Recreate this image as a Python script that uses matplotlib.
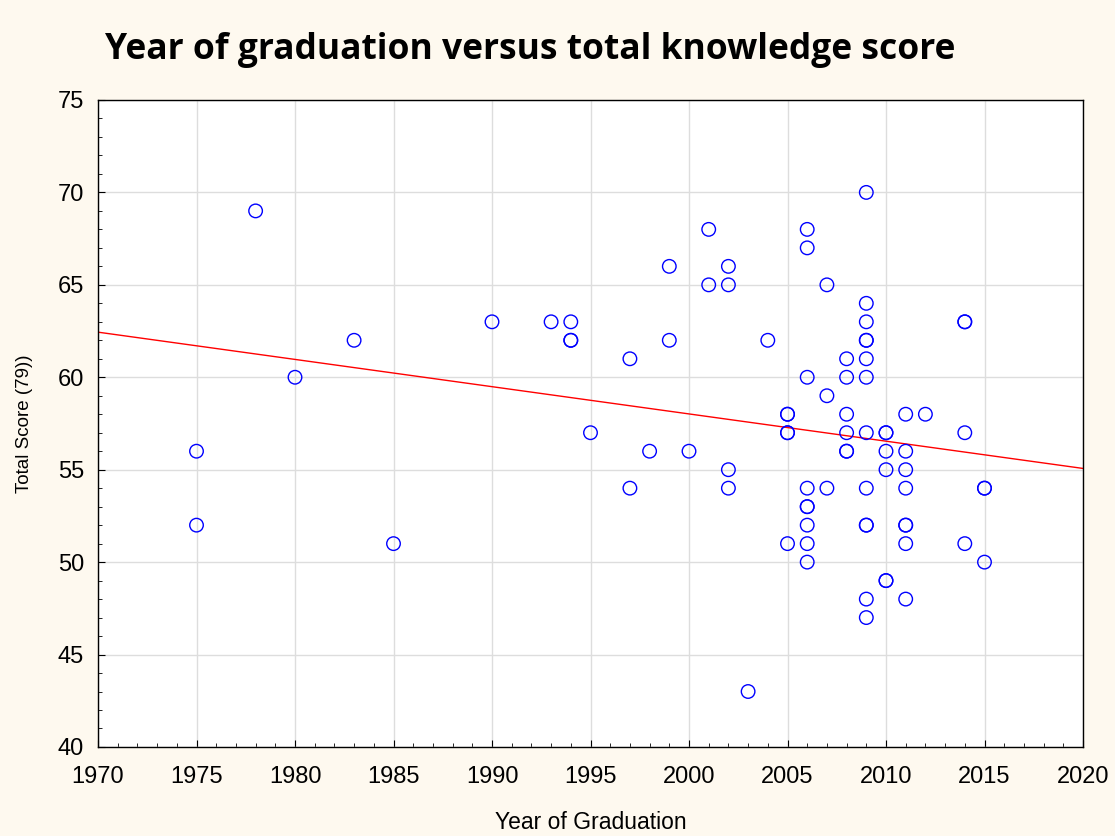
import numpy as np
import matplotlib
matplotlib.use("Agg")
import matplotlib.pyplot as plt
from matplotlib.ticker import MultipleLocator

# year of graduation and total score, one entry per respondent (duplicates drawn twice)
years = [1975, 1975, 1978, 1980, 1983, 1985, 1990, 1993, 1994, 1994, 1994,
         1995, 1997, 1997, 1998, 1999, 1999, 2000, 2001, 2001,
         2002, 2002, 2002, 2002, 2003, 2004,
         2005, 2005, 2005, 2005, 2005,
         2006, 2006, 2006, 2006, 2006, 2006, 2006, 2006, 2006,
         2007, 2007, 2007,
         2008, 2008, 2008, 2008, 2008, 2008,
         2009, 2009, 2009, 2009, 2009, 2009, 2009, 2009, 2009, 2009, 2009, 2009, 2009,
         2010, 2010, 2010, 2010, 2010, 2010,
         2011, 2011, 2011, 2011, 2011, 2011, 2011, 2011,
         2012, 2014, 2014, 2014, 2014, 2015, 2015, 2015]
scores = [56, 52, 69, 60, 62, 51, 63, 63, 63, 62, 62,
          57, 61, 54, 56, 66, 62, 56, 68, 65,
          66, 65, 55, 54, 43, 62,
          58, 58, 57, 57, 51,
          68, 67, 60, 54, 53, 53, 52, 51, 50,
          65, 59, 54,
          61, 60, 58, 57, 56, 56,
          70, 64, 63, 62, 62, 61, 60, 57, 54, 52, 52, 48, 47,
          57, 57, 56, 55, 49, 49,
          58, 56, 55, 54, 52, 52, 51, 48,
          58, 63, 63, 57, 51, 54, 54, 50]

bg = "#FEF9EF"
plt.rcParams["font.family"] = ["Liberation Sans", "DejaVu Sans"]
fig = plt.figure(figsize=(11.15, 8.36), dpi=100, facecolor=bg)
ax = fig.add_axes([0.0879, 0.1065, 0.8834, 0.7739])
ax.set_facecolor("white")

x = np.array(years, dtype=float)
y = np.array(scores, dtype=float)
ax.scatter(x, y, s=95, facecolors="none", edgecolors="#0000FF", linewidths=1.0, zorder=3)

# least squares line through the points
slope, intercept = np.polyfit(x, y, 1)
xl = np.array([1970, 2020])
ax.plot(xl, slope * xl + intercept, color="red", lw=1.0, zorder=2)

ax.set_xlim(1970, 2020)
ax.set_ylim(40, 75)
ax.xaxis.set_major_locator(MultipleLocator(5))
ax.yaxis.set_major_locator(MultipleLocator(5))
ax.xaxis.set_minor_locator(MultipleLocator(1))
ax.yaxis.set_minor_locator(MultipleLocator(1))
ax.tick_params(which="both", direction="in", top=False, right=False)
ax.tick_params(which="major", length=5, labelsize=17)
ax.tick_params(axis="x", which="major", pad=14)
ax.tick_params(axis="y", which="major", pad=10)
ax.tick_params(which="minor", length=3)
ax.grid(True, which="major", color="#DDDDDD", lw=1.0)
ax.set_axisbelow(True)
for s in ax.spines.values():
    s.set_color("black")
    s.set_linewidth(1.0)

ax.set_xlabel("Year of Graduation", fontsize=16.5, labelpad=16)
ax.set_ylabel("Total Score (79))", fontsize=13.5, labelpad=18)

fig.text(0.094, 0.94, "Year of graduation versus total knowledge score",
         fontsize=25.5, fontweight="bold", family="Open Sans", va="center", ha="left")

fig.savefig("out.png", dpi=100, facecolor=bg)
